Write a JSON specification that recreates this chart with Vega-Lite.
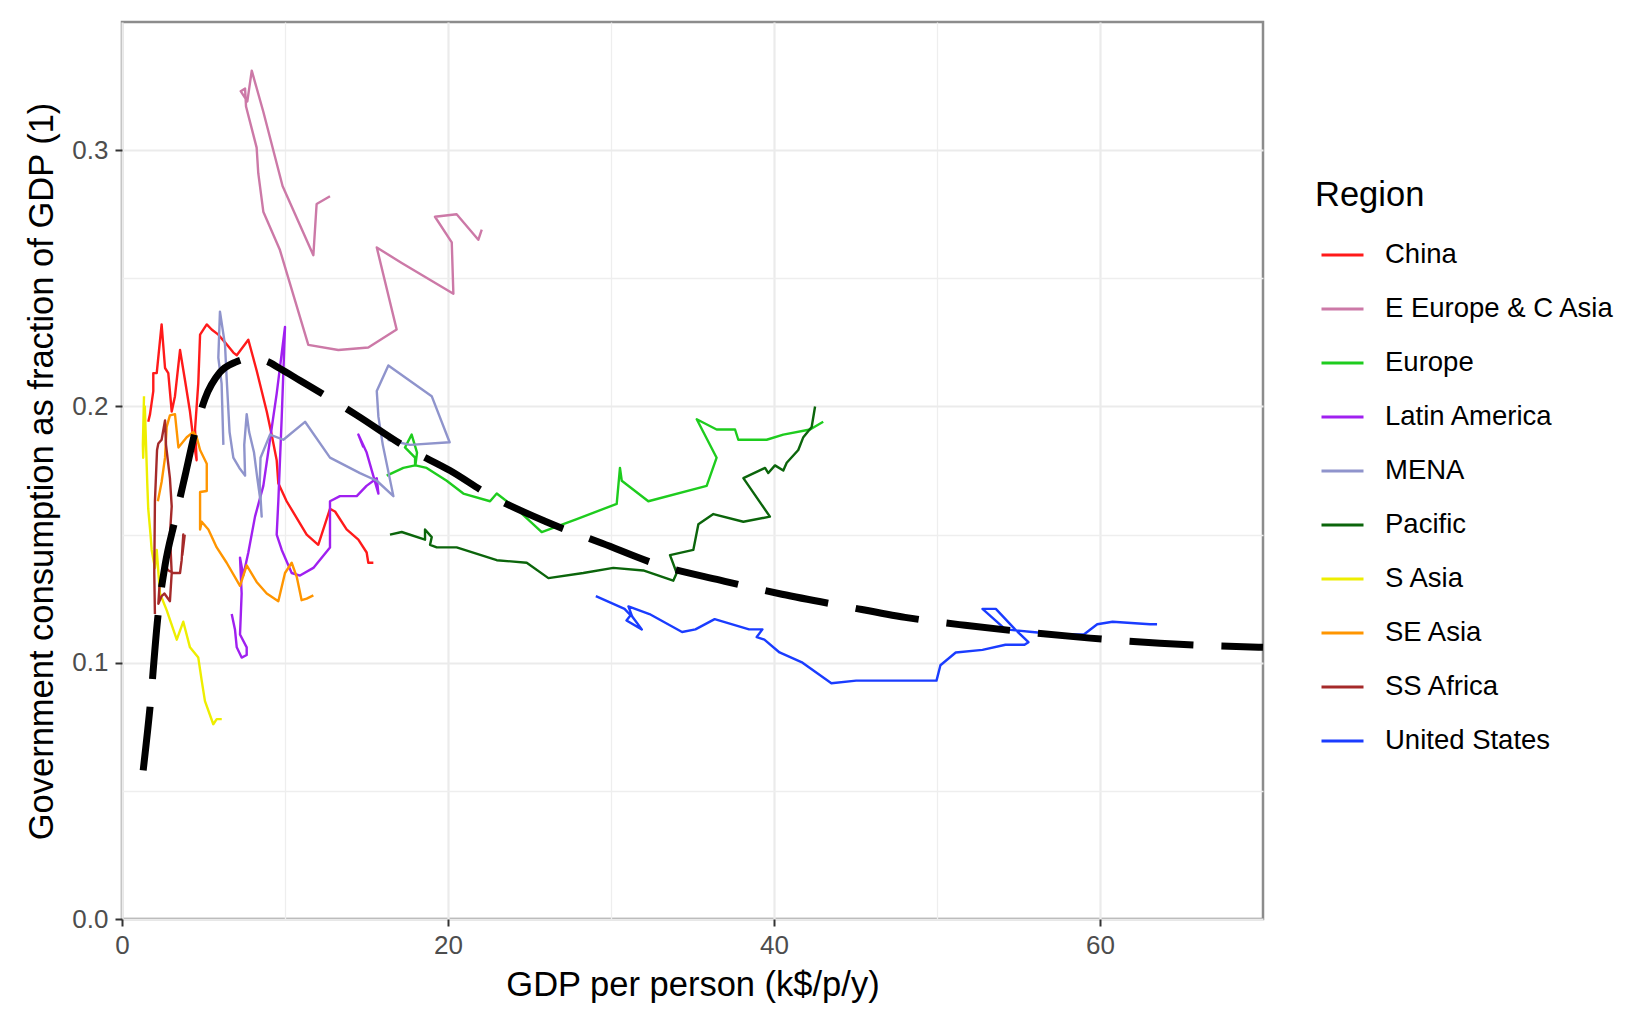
{
"$schema": "https://vega.github.io/schema/vega-lite/v6.json",
"autosize": {"type": "none"},
"width": 1141,
"height": 897,
"padding": {"left": 122, "top": 22, "right": 374, "bottom": 93},
"background": "white",
"config": {
  "font": "Liberation Sans",
  "view": {"stroke": "#8c8c8c", "strokeWidth": 2.5}
},
"datasets": {
"paths": [
{"r":"China","i":1,"x":1.61,"y":0.194},{"r":"China","i":2,"x":1.72,"y":0.197},{"r":"China","i":3,"x":1.92,"y":0.206},{"r":"China","i":4,"x":1.92,"y":0.213},{"r":"China","i":5,"x":2.13,"y":0.213},{"r":"China","i":6,"x":2.43,"y":0.232},{"r":"China","i":7,"x":2.64,"y":0.215},{"r":"China","i":8,"x":2.84,"y":0.213},{"r":"China","i":9,"x":3.05,"y":0.198},{"r":"China","i":10,"x":3.25,"y":0.204},{"r":"China","i":11,"x":3.56,"y":0.222},{"r":"China","i":12,"x":3.87,"y":0.21},{"r":"China","i":13,"x":4.17,"y":0.198},{"r":"China","i":14,"x":4.38,"y":0.187},{"r":"China","i":15,"x":4.58,"y":0.179},{"r":"China","i":16,"x":4.48,"y":0.191},{"r":"China","i":17,"x":4.68,"y":0.209},{"r":"China","i":18,"x":4.79,"y":0.228},{"r":"China","i":19,"x":5.2,"y":0.232},{"r":"China","i":20,"x":5.5,"y":0.23},{"r":"China","i":21,"x":5.91,"y":0.228},{"r":"China","i":22,"x":6.32,"y":0.225},{"r":"China","i":23,"x":6.83,"y":0.221},{"r":"China","i":24,"x":7.04,"y":0.22},{"r":"China","i":25,"x":7.75,"y":0.226},{"r":"China","i":26,"x":8.26,"y":0.214},{"r":"China","i":27,"x":8.88,"y":0.198},{"r":"China","i":28,"x":9.18,"y":0.189},{"r":"China","i":29,"x":9.49,"y":0.179},{"r":"China","i":30,"x":9.59,"y":0.17},{"r":"China","i":31,"x":10.1,"y":0.163},{"r":"China","i":32,"x":11.33,"y":0.15},{"r":"China","i":33,"x":12.04,"y":0.146},{"r":"China","i":34,"x":12.76,"y":0.16},{"r":"China","i":35,"x":13.07,"y":0.159},{"r":"China","i":36,"x":13.78,"y":0.152},{"r":"China","i":37,"x":14.5,"y":0.148},{"r":"China","i":38,"x":15.01,"y":0.143},{"r":"China","i":39,"x":15.11,"y":0.139},{"r":"China","i":40,"x":15.42,"y":0.139},
{"r":"E Europe & C Asia","i":1,"x":12.76,"y":0.282},{"r":"E Europe & C Asia","i":2,"x":11.94,"y":0.279},{"r":"E Europe & C Asia","i":3,"x":11.74,"y":0.259},{"r":"E Europe & C Asia","i":4,"x":9.85,"y":0.286},{"r":"E Europe & C Asia","i":5,"x":8.67,"y":0.315},{"r":"E Europe & C Asia","i":6,"x":7.96,"y":0.331},{"r":"E Europe & C Asia","i":7,"x":7.69,"y":0.319},{"r":"E Europe & C Asia","i":8,"x":7.28,"y":0.323},{"r":"E Europe & C Asia","i":9,"x":7.55,"y":0.324},{"r":"E Europe & C Asia","i":10,"x":7.61,"y":0.317},{"r":"E Europe & C Asia","i":11,"x":8.26,"y":0.301},{"r":"E Europe & C Asia","i":12,"x":8.36,"y":0.291},{"r":"E Europe & C Asia","i":13,"x":8.67,"y":0.276},{"r":"E Europe & C Asia","i":14,"x":9.69,"y":0.261},{"r":"E Europe & C Asia","i":15,"x":11.43,"y":0.224},{"r":"E Europe & C Asia","i":16,"x":13.27,"y":0.222},{"r":"E Europe & C Asia","i":17,"x":15.11,"y":0.223},{"r":"E Europe & C Asia","i":18,"x":16.85,"y":0.23},{"r":"E Europe & C Asia","i":19,"x":15.63,"y":0.262},{"r":"E Europe & C Asia","i":20,"x":17.16,"y":0.256},{"r":"E Europe & C Asia","i":21,"x":20.33,"y":0.244},{"r":"E Europe & C Asia","i":22,"x":20.23,"y":0.264},{"r":"E Europe & C Asia","i":23,"x":19.2,"y":0.274},{"r":"E Europe & C Asia","i":24,"x":20.53,"y":0.275},{"r":"E Europe & C Asia","i":25,"x":21.86,"y":0.265},{"r":"E Europe & C Asia","i":26,"x":22.07,"y":0.269},
{"r":"Europe","i":1,"x":16.24,"y":0.173},{"r":"Europe","i":2,"x":17.26,"y":0.176},{"r":"Europe","i":3,"x":17.98,"y":0.177},{"r":"Europe","i":4,"x":17.98,"y":0.18},{"r":"Europe","i":5,"x":17.36,"y":0.184},{"r":"Europe","i":6,"x":17.77,"y":0.189},{"r":"Europe","i":7,"x":18.1,"y":0.182},{"r":"Europe","i":8,"x":18.0,"y":0.177},{"r":"Europe","i":9,"x":18.69,"y":0.176},{"r":"Europe","i":10,"x":19.92,"y":0.171},{"r":"Europe","i":11,"x":20.94,"y":0.166},{"r":"Europe","i":12,"x":22.58,"y":0.163},{"r":"Europe","i":13,"x":22.99,"y":0.166},{"r":"Europe","i":14,"x":24.21,"y":0.16},{"r":"Europe","i":15,"x":25.75,"y":0.151},{"r":"Europe","i":16,"x":27.9,"y":0.156},{"r":"Europe","i":17,"x":30.35,"y":0.162},{"r":"Europe","i":18,"x":30.55,"y":0.176},{"r":"Europe","i":19,"x":30.66,"y":0.171},{"r":"Europe","i":20,"x":32.29,"y":0.163},{"r":"Europe","i":21,"x":35.87,"y":0.169},{"r":"Europe","i":22,"x":36.48,"y":0.18},{"r":"Europe","i":23,"x":35.26,"y":0.195},{"r":"Europe","i":24,"x":36.48,"y":0.191},{"r":"Europe","i":25,"x":37.61,"y":0.191},{"r":"Europe","i":26,"x":37.81,"y":0.187},{"r":"Europe","i":27,"x":39.55,"y":0.187},{"r":"Europe","i":28,"x":40.57,"y":0.189},{"r":"Europe","i":29,"x":42.21,"y":0.191},{"r":"Europe","i":30,"x":43.02,"y":0.194},
{"r":"Latin America","i":1,"x":6.73,"y":0.119},{"r":"Latin America","i":2,"x":6.93,"y":0.113},{"r":"Latin America","i":3,"x":7.04,"y":0.106},{"r":"Latin America","i":4,"x":7.34,"y":0.102},{"r":"Latin America","i":5,"x":7.65,"y":0.103},{"r":"Latin America","i":6,"x":7.65,"y":0.106},{"r":"Latin America","i":7,"x":7.24,"y":0.111},{"r":"Latin America","i":8,"x":7.34,"y":0.127},{"r":"Latin America","i":9,"x":7.24,"y":0.141},{"r":"Latin America","i":10,"x":7.44,"y":0.134},{"r":"Latin America","i":11,"x":7.75,"y":0.143},{"r":"Latin America","i":12,"x":8.16,"y":0.157},{"r":"Latin America","i":13,"x":8.67,"y":0.169},{"r":"Latin America","i":14,"x":9.08,"y":0.187},{"r":"Latin America","i":15,"x":9.49,"y":0.205},{"r":"Latin America","i":16,"x":10.0,"y":0.231},{"r":"Latin America","i":17,"x":9.8,"y":0.196},{"r":"Latin America","i":18,"x":9.59,"y":0.163},{"r":"Latin America","i":19,"x":9.49,"y":0.15},{"r":"Latin America","i":20,"x":9.8,"y":0.144},{"r":"Latin America","i":21,"x":10.41,"y":0.135},{"r":"Latin America","i":22,"x":10.92,"y":0.134},{"r":"Latin America","i":23,"x":11.74,"y":0.137},{"r":"Latin America","i":24,"x":12.76,"y":0.145},{"r":"Latin America","i":25,"x":12.76,"y":0.163},{"r":"Latin America","i":26,"x":13.37,"y":0.165},{"r":"Latin America","i":27,"x":14.4,"y":0.165},{"r":"Latin America","i":28,"x":15.0,"y":0.169},{"r":"Latin America","i":29,"x":15.63,"y":0.172},{"r":"Latin America","i":30,"x":15.73,"y":0.166},{"r":"Latin America","i":31,"x":15.01,"y":0.182},{"r":"Latin America","i":32,"x":14.5,"y":0.189},{"r":"Latin America","i":33,"x":14.81,"y":0.184},
{"r":"MENA","i":1,"x":6.22,"y":0.185},{"r":"MENA","i":2,"x":6.11,"y":0.209},{"r":"MENA","i":3,"x":5.91,"y":0.219},{"r":"MENA","i":4,"x":6.01,"y":0.237},{"r":"MENA","i":5,"x":6.32,"y":0.224},{"r":"MENA","i":6,"x":6.42,"y":0.211},{"r":"MENA","i":7,"x":6.6,"y":0.19},{"r":"MENA","i":8,"x":6.83,"y":0.18},{"r":"MENA","i":9,"x":7.2,"y":0.176},{"r":"MENA","i":10,"x":7.55,"y":0.173},{"r":"MENA","i":11,"x":7.5,"y":0.185},{"r":"MENA","i":12,"x":7.65,"y":0.197},{"r":"MENA","i":13,"x":7.8,"y":0.19},{"r":"MENA","i":14,"x":8.1,"y":0.182},{"r":"MENA","i":15,"x":8.3,"y":0.172},{"r":"MENA","i":16,"x":8.5,"y":0.163},{"r":"MENA","i":17,"x":8.57,"y":0.157},{"r":"MENA","i":18,"x":8.45,"y":0.17},{"r":"MENA","i":19,"x":8.5,"y":0.18},{"r":"MENA","i":20,"x":9.08,"y":0.189},{"r":"MENA","i":21,"x":9.9,"y":0.187},{"r":"MENA","i":22,"x":11.23,"y":0.194},{"r":"MENA","i":23,"x":12.76,"y":0.18},{"r":"MENA","i":24,"x":14.6,"y":0.174},{"r":"MENA","i":25,"x":15.63,"y":0.171},{"r":"MENA","i":26,"x":16.65,"y":0.165},{"r":"MENA","i":27,"x":16.0,"y":0.185},{"r":"MENA","i":28,"x":15.73,"y":0.196},{"r":"MENA","i":29,"x":15.63,"y":0.206},{"r":"MENA","i":30,"x":16.34,"y":0.216},{"r":"MENA","i":31,"x":19.0,"y":0.204},{"r":"MENA","i":32,"x":20.1,"y":0.186},{"r":"MENA","i":33,"x":17.67,"y":0.185},{"r":"MENA","i":34,"x":16.3,"y":0.187},
{"r":"Pacific","i":1,"x":16.44,"y":0.15},{"r":"Pacific","i":2,"x":17.16,"y":0.151},{"r":"Pacific","i":3,"x":18.59,"y":0.148},{"r":"Pacific","i":4,"x":18.59,"y":0.152},{"r":"Pacific","i":5,"x":19.0,"y":0.149},{"r":"Pacific","i":6,"x":18.9,"y":0.146},{"r":"Pacific","i":7,"x":19.31,"y":0.145},{"r":"Pacific","i":8,"x":20.53,"y":0.145},{"r":"Pacific","i":9,"x":22.99,"y":0.14},{"r":"Pacific","i":10,"x":24.83,"y":0.139},{"r":"Pacific","i":11,"x":26.16,"y":0.133},{"r":"Pacific","i":12,"x":28.3,"y":0.135},{"r":"Pacific","i":13,"x":30.14,"y":0.137},{"r":"Pacific","i":14,"x":31.98,"y":0.136},{"r":"Pacific","i":15,"x":33.82,"y":0.132},{"r":"Pacific","i":16,"x":34.03,"y":0.135},{"r":"Pacific","i":17,"x":33.62,"y":0.142},{"r":"Pacific","i":18,"x":35.05,"y":0.144},{"r":"Pacific","i":19,"x":35.36,"y":0.154},{"r":"Pacific","i":20,"x":36.28,"y":0.158},{"r":"Pacific","i":21,"x":38.12,"y":0.155},{"r":"Pacific","i":22,"x":39.75,"y":0.157},{"r":"Pacific","i":23,"x":38.12,"y":0.172},{"r":"Pacific","i":24,"x":39.45,"y":0.176},{"r":"Pacific","i":25,"x":39.65,"y":0.174},{"r":"Pacific","i":26,"x":40.06,"y":0.177},{"r":"Pacific","i":27,"x":40.57,"y":0.175},{"r":"Pacific","i":28,"x":40.78,"y":0.178},{"r":"Pacific","i":29,"x":41.49,"y":0.183},{"r":"Pacific","i":30,"x":41.8,"y":0.188},{"r":"Pacific","i":31,"x":42.31,"y":0.192},{"r":"Pacific","i":32,"x":42.52,"y":0.2},
{"r":"S Asia","i":1,"x":1.35,"y":0.204},{"r":"S Asia","i":2,"x":1.28,"y":0.185},{"r":"S Asia","i":3,"x":1.3,"y":0.18},{"r":"S Asia","i":4,"x":1.4,"y":0.2},{"r":"S Asia","i":5,"x":1.45,"y":0.19},{"r":"S Asia","i":6,"x":1.55,"y":0.17},{"r":"S Asia","i":7,"x":1.61,"y":0.16},{"r":"S Asia","i":8,"x":1.75,"y":0.15},{"r":"S Asia","i":9,"x":1.82,"y":0.144},{"r":"S Asia","i":10,"x":2.02,"y":0.137},{"r":"S Asia","i":11,"x":2.13,"y":0.144},{"r":"S Asia","i":12,"x":2.33,"y":0.127},{"r":"S Asia","i":13,"x":2.74,"y":0.1205},{"r":"S Asia","i":14,"x":3.36,"y":0.109},{"r":"S Asia","i":15,"x":3.76,"y":0.116},{"r":"S Asia","i":16,"x":4.17,"y":0.106},{"r":"S Asia","i":17,"x":4.68,"y":0.102},{"r":"S Asia","i":18,"x":4.89,"y":0.093},{"r":"S Asia","i":19,"x":5.09,"y":0.085},{"r":"S Asia","i":20,"x":5.6,"y":0.076},{"r":"S Asia","i":21,"x":5.81,"y":0.078},{"r":"S Asia","i":22,"x":6.12,"y":0.078},
{"r":"SE Asia","i":1,"x":2.2,"y":0.163},{"r":"SE Asia","i":2,"x":2.43,"y":0.1705},{"r":"SE Asia","i":3,"x":2.64,"y":0.18},{"r":"SE Asia","i":4,"x":2.74,"y":0.192},{"r":"SE Asia","i":5,"x":2.94,"y":0.1965},{"r":"SE Asia","i":6,"x":3.25,"y":0.197},{"r":"SE Asia","i":7,"x":3.46,"y":0.184},{"r":"SE Asia","i":8,"x":3.97,"y":0.188},{"r":"SE Asia","i":9,"x":4.38,"y":0.19},{"r":"SE Asia","i":10,"x":4.58,"y":0.188},{"r":"SE Asia","i":11,"x":4.79,"y":0.183},{"r":"SE Asia","i":12,"x":5.2,"y":0.1776},{"r":"SE Asia","i":13,"x":5.2,"y":0.167},{"r":"SE Asia","i":14,"x":4.79,"y":0.1666},{"r":"SE Asia","i":15,"x":4.79,"y":0.152},{"r":"SE Asia","i":16,"x":4.89,"y":0.155},{"r":"SE Asia","i":17,"x":5.3,"y":0.152},{"r":"SE Asia","i":18,"x":5.81,"y":0.145},{"r":"SE Asia","i":19,"x":6.42,"y":0.139},{"r":"SE Asia","i":20,"x":7.24,"y":0.13},{"r":"SE Asia","i":21,"x":7.65,"y":0.138},{"r":"SE Asia","i":22,"x":8.26,"y":0.1315},{"r":"SE Asia","i":23,"x":8.88,"y":0.127},{"r":"SE Asia","i":24,"x":9.59,"y":0.124},{"r":"SE Asia","i":25,"x":10.0,"y":0.135},{"r":"SE Asia","i":26,"x":10.41,"y":0.139},{"r":"SE Asia","i":27,"x":10.72,"y":0.1335},{"r":"SE Asia","i":28,"x":11.02,"y":0.1244},{"r":"SE Asia","i":29,"x":11.33,"y":0.125},{"r":"SE Asia","i":30,"x":11.74,"y":0.1263},
{"r":"SS Africa","i":1,"x":2.02,"y":0.119},{"r":"SS Africa","i":2,"x":1.98,"y":0.135},{"r":"SS Africa","i":3,"x":2.02,"y":0.163},{"r":"SS Africa","i":4,"x":2.15,"y":0.183},{"r":"SS Africa","i":5,"x":2.23,"y":0.1855},{"r":"SS Africa","i":6,"x":2.43,"y":0.187},{"r":"SS Africa","i":7,"x":2.64,"y":0.1945},{"r":"SS Africa","i":8,"x":2.7,"y":0.185},{"r":"SS Africa","i":9,"x":2.94,"y":0.172},{"r":"SS Africa","i":10,"x":3.05,"y":0.161},{"r":"SS Africa","i":11,"x":2.94,"y":0.15},{"r":"SS Africa","i":12,"x":3.05,"y":0.135},{"r":"SS Africa","i":13,"x":2.94,"y":0.124},{"r":"SS Africa","i":14,"x":2.6,"y":0.127},{"r":"SS Africa","i":15,"x":2.43,"y":0.126},{"r":"SS Africa","i":16,"x":2.23,"y":0.123},{"r":"SS Africa","i":17,"x":2.3,"y":0.13},{"r":"SS Africa","i":18,"x":2.6,"y":0.138},{"r":"SS Africa","i":19,"x":2.85,"y":0.136},{"r":"SS Africa","i":20,"x":3.15,"y":0.135},{"r":"SS Africa","i":21,"x":3.56,"y":0.135},{"r":"SS Africa","i":22,"x":3.66,"y":0.14},{"r":"SS Africa","i":23,"x":3.76,"y":0.15},{"r":"SS Africa","i":24,"x":3.7,"y":0.142},{"r":"SS Africa","i":25,"x":3.85,"y":0.15},
{"r":"United States","i":1,"x":29.07,"y":0.126},{"r":"United States","i":2,"x":30.83,"y":0.121},{"r":"United States","i":3,"x":31.2,"y":0.1185},{"r":"United States","i":4,"x":30.95,"y":0.1165},{"r":"United States","i":5,"x":31.89,"y":0.113},{"r":"United States","i":6,"x":31.3,"y":0.118},{"r":"United States","i":7,"x":31.07,"y":0.122},{"r":"United States","i":8,"x":32.36,"y":0.119},{"r":"United States","i":9,"x":34.36,"y":0.112},{"r":"United States","i":10,"x":35.18,"y":0.113},{"r":"United States","i":11,"x":36.36,"y":0.117},{"r":"United States","i":12,"x":38.47,"y":0.113},{"r":"United States","i":13,"x":39.29,"y":0.113},{"r":"United States","i":14,"x":38.94,"y":0.11},{"r":"United States","i":15,"x":39.41,"y":0.109},{"r":"United States","i":16,"x":40.34,"y":0.104},{"r":"United States","i":17,"x":41.75,"y":0.1},{"r":"United States","i":18,"x":43.52,"y":0.092},{"r":"United States","i":19,"x":45.04,"y":0.093},{"r":"United States","i":20,"x":49.97,"y":0.093},{"r":"United States","i":21,"x":50.21,"y":0.099},{"r":"United States","i":22,"x":51.15,"y":0.104},{"r":"United States","i":23,"x":52.79,"y":0.105},{"r":"United States","i":24,"x":54.2,"y":0.107},{"r":"United States","i":25,"x":55.37,"y":0.107},{"r":"United States","i":26,"x":55.61,"y":0.108},{"r":"United States","i":27,"x":54.79,"y":0.113},{"r":"United States","i":28,"x":53.61,"y":0.121},{"r":"United States","i":29,"x":52.79,"y":0.121},{"r":"United States","i":30,"x":54.2,"y":0.113},{"r":"United States","i":31,"x":55.84,"y":0.112},{"r":"United States","i":32,"x":57.48,"y":0.111},{"r":"United States","i":33,"x":59.01,"y":0.111},{"r":"United States","i":34,"x":59.83,"y":0.115},{"r":"United States","i":35,"x":60.77,"y":0.116},{"r":"United States","i":36,"x":63.07,"y":0.115},{"r":"United States","i":37,"x":63.5,"y":0.115}
],
"fit": [
{"x":1.3,"y":0.058},{"x":1.72,"y":0.0827},{"x":2.21,"y":0.1185},{"x":2.64,"y":0.138},{"x":3.25,"y":0.1556},{"x":3.87,"y":0.173},{"x":4.48,"y":0.19},{"x":5.09,"y":0.203},{"x":6.01,"y":0.2133},{"x":6.93,"y":0.2172},{"x":7.85,"y":0.2187},{"x":8.77,"y":0.2179},{"x":9.69,"y":0.2148},{"x":10.92,"y":0.2101},{"x":12.76,"y":0.2031},{"x":14.42,"y":0.1965},{"x":17.55,"y":0.1836},{"x":20.12,"y":0.175},{"x":22.58,"y":0.1653},{"x":25.95,"y":0.1552},{"x":29.45,"y":0.1466},{"x":33.19,"y":0.1376},{"x":36.69,"y":0.1322},{"x":40.49,"y":0.1267},{"x":44.36,"y":0.122},{"x":48.04,"y":0.1177},{"x":51.72,"y":0.1146},{"x":55.58,"y":0.1119},{"x":59.39,"y":0.1096},{"x":63.68,"y":0.1076},{"x":70,"y":0.106}
]
},
"resolve": {"axis": {"x": "independent", "y": "independent"}},
"layer": [
{
  "data": {"name": "fit"},
  "mark": {"type": "point", "opacity": 0},
  "encoding": {
    "x": {"field": "x", "type": "quantitative", "scale": {"domain": [0, 70], "nice": false, "zero": false},
      "axis": {"orient": "top", "values": [10, 30, 50], "grid": true, "gridColor": "#EEEEEE", "gridWidth": 1.3, "labels": false, "ticks": false, "domain": false, "title": null}},
    "y": {"field": "y", "type": "quantitative", "scale": {"domain": [0, 0.35], "nice": false, "zero": false},
      "axis": {"orient": "right", "values": [0.05, 0.15, 0.25], "grid": true, "gridColor": "#EEEEEE", "gridWidth": 1.3, "labels": false, "ticks": false, "domain": false, "title": null}}
  }
},
{
  "data": {"name": "paths"},
  "mark": {"type": "line", "strokeWidth": 2.4, "strokeJoin": "round"},
  "encoding": {
    "x": {"field": "x", "type": "quantitative", "scale": {"domain": [0, 70], "nice": false, "zero": false},
      "axis": {"values": [0, 20, 40, 60], "format": "d", "grid": true, "gridColor": "#EBEBEB", "gridWidth": 2.2, "domain": false, "tickSize": 7, "tickWidth": 2, "tickColor": "#333333", "labelFontSize": 26, "labelColor": "#4D4D4D", "labelPadding": 6, "labelFlush": false, "labelFont": "Liberation Sans", "title": "GDP per person (k$/p/y)", "titleFont": "Liberation Sans", "titleFontSize": 34.5, "titleFontWeight": "normal", "titleColor": "#000000", "titleBaseline": "alphabetic", "titleX": 570.5, "titleY": 76}},
    "y": {"field": "y", "type": "quantitative", "scale": {"domain": [0, 0.35], "nice": false, "zero": false},
      "axis": {"values": [0, 0.1, 0.2, 0.3], "format": ".1f", "grid": true, "gridColor": "#EBEBEB", "gridWidth": 2.2, "domain": false, "tickSize": 7, "tickWidth": 2, "tickColor": "#333333", "labelFontSize": 26, "labelColor": "#4D4D4D", "labelPadding": 7, "labelFlush": false, "labelFont": "Liberation Sans", "title": "Government consumption as fraction of GDP (1)", "titleFont": "Liberation Sans", "titleFontSize": 34.5, "titleFontWeight": "normal", "titleColor": "#000000", "titleBaseline": "alphabetic", "titleAngle": 270, "titleX": -70, "titleY": 449}},
    "color": {"field": "r", "type": "nominal",
      "scale": {"domain": ["China", "E Europe & C Asia", "Europe", "Latin America", "MENA", "Pacific", "S Asia", "SE Asia", "SS Africa", "United States"],
                "range": ["#FF1A1A", "#CC79A7", "#1ECC1E", "#A020F0", "#8F94CC", "#0B650B", "#EEEE00", "#FF9500", "#A52A2A", "#1A3CFF"]},
      "legend": {"orient": "none", "legendX": 1193, "legendY": 157, "padding": 0, "title": "Region", "titleFont": "Liberation Sans", "titleFontSize": 34.5, "titleFontWeight": "normal", "titleColor": "#000000", "titlePadding": 19, "labelFont": "Liberation Sans", "labelFontSize": 27.5, "labelColor": "#000000", "labelLimit": 0, "symbolType": "stroke", "symbolSize": 1764, "symbolStrokeWidth": 3, "symbolOffset": 5, "labelOffset": 20, "rowPadding": 18}},
    "order": {"field": "i", "type": "quantitative"}
  }
},
{
  "data": {"name": "fit"},
  "mark": {"type": "line", "color": "#000000", "strokeWidth": 7, "strokeDash": [64, 28], "strokeCap": "butt", "interpolate": "monotone"},
  "encoding": {
    "x": {"field": "x", "type": "quantitative", "scale": {"domain": [0, 70], "nice": false, "zero": false}, "axis": null},
    "y": {"field": "y", "type": "quantitative", "scale": {"domain": [0, 0.35], "nice": false, "zero": false}, "axis": null}
  }
}
]
}
